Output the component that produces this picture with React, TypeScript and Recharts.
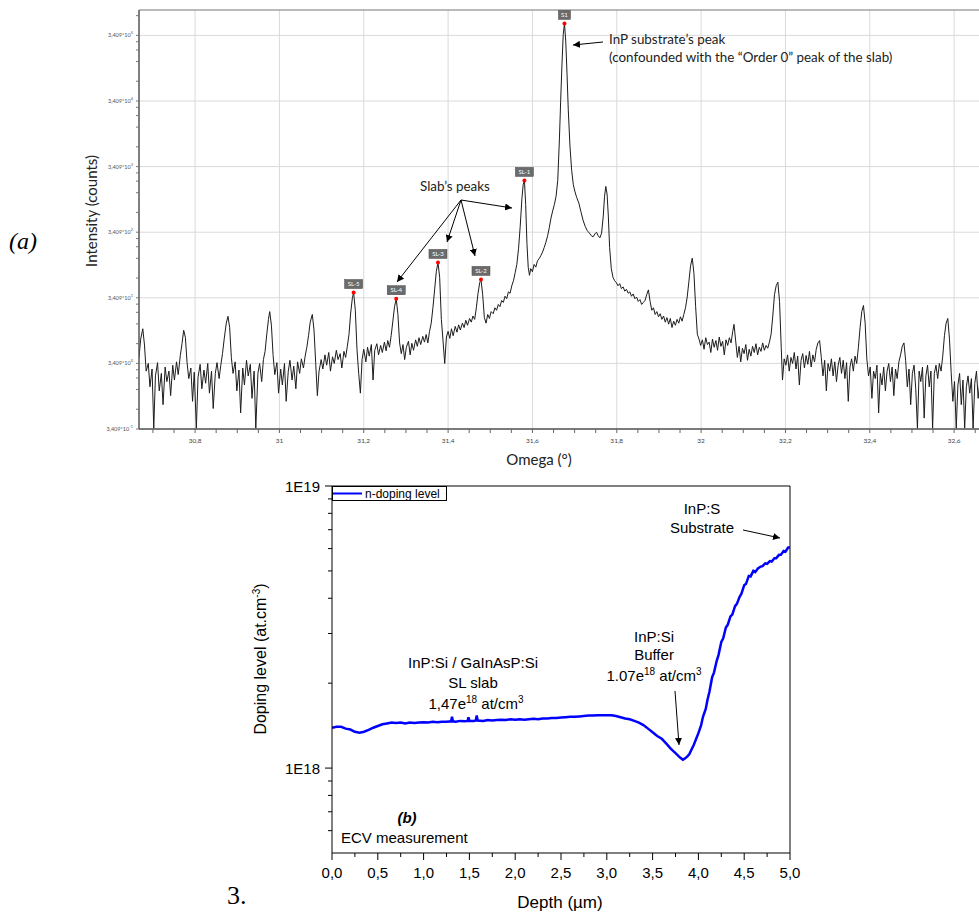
import React from 'react';
import { LineChart, Line, XAxis, YAxis, ReferenceDot, ReferenceLine } from 'recharts';

// ---- (a) XRD omega scan ----
const omegaTicks = [30.8, 31, 31.2, 31.4, 31.6, 31.8, 32, 32.2, 32.4, 32.6];
const intensityTicks = [0.3409, 3.409, 34.09, 340.9, 3409, 34090, 340900];
const intensityExp = ['-1', '0', '1', '2', '3', '4', '5'];

// [omega (deg), intensity (counts)]
const scan: [number, number][] = [
  [30.667, 4.2], [30.671, 8.0], [30.676, 11.5], [30.680, 6.5], [30.684, 2.6], [30.689, 3.4], [30.693, 1.5], [30.698, 2.8],
  [30.702, 0.35], [30.706, 2.2], [30.711, 3.5], [30.715, 1.3], [30.720, 2.4], [30.724, 0.8], [30.729, 3.0], [30.733, 1.8],
  [30.738, 2.6], [30.742, 1.1], [30.747, 3.2], [30.751, 1.9], [30.756, 3.6], [30.760, 2.3], [30.765, 4.5], [30.769, 6.8],
  [30.773, 10.9], [30.777, 8.5], [30.781, 3.5], [30.785, 2.0], [30.790, 2.9], [30.794, 0.9], [30.798, 2.5], [30.803, 0.35],
  [30.807, 2.1], [30.812, 3.3], [30.816, 1.4], [30.821, 2.7], [30.825, 1.7], [30.830, 3.4], [30.834, 1.2], [30.839, 2.6],
  [30.843, 0.7], [30.848, 2.4], [30.852, 3.5], [30.857, 2.0], [30.861, 3.2], [30.865, 4.8], [30.869, 8.0], [30.874, 14.0],
  [30.878, 17.8], [30.882, 12.0], [30.886, 4.2], [30.890, 2.4], [30.895, 3.6], [30.899, 1.3], [30.904, 2.7], [30.908, 0.6],
  [30.913, 2.9], [30.917, 1.6], [30.922, 3.8], [30.926, 2.2], [30.931, 3.3], [30.935, 1.0], [30.940, 2.6], [30.944, 0.35],
  [30.949, 2.4], [30.953, 3.4], [30.958, 1.8], [30.962, 3.9], [30.966, 5.2], [30.970, 9.5], [30.974, 16.0], [30.977, 21.0],
  [30.981, 13.0], [30.985, 4.5], [30.989, 2.3], [30.994, 3.5], [30.998, 1.2], [31.003, 2.8], [31.007, 1.6], [31.012, 3.4],
  [31.016, 0.9], [31.021, 2.6], [31.025, 3.8], [31.030, 1.9], [31.034, 3.1], [31.039, 1.4], [31.043, 3.6], [31.048, 2.4],
  [31.052, 4.0], [31.057, 2.9], [31.061, 4.4], [31.065, 6.0], [31.069, 9.0], [31.073, 14.5], [31.078, 19.0], [31.082, 11.0],
  [31.086, 3.5], [31.090, 1.1], [31.094, 2.6], [31.099, 3.9],
  [31.103, 2.8], [31.108, 4.6], [31.112, 3.2], [31.117, 5.0], [31.121, 2.6], [31.126, 4.3], [31.130, 3.4], [31.135, 5.4],
  [31.139, 3.9], [31.144, 4.8], [31.148, 2.9], [31.153, 5.2], [31.157, 4.2], [31.161, 6.2], [31.165, 9.5], [31.169, 20.0],
  [31.173, 34.0], [31.176, 41.0], [31.180, 22.0], [31.184, 5.5], [31.188, 2.4], [31.192, 1.2], [31.196, 3.9], [31.200, 5.6],
  [31.205, 3.6], [31.209, 6.0], [31.213, 4.4], [31.218, 6.6], [31.222, 1.9], [31.226, 5.4], [31.231, 6.8], [31.235, 4.6],
  [31.240, 6.4], [31.244, 5.0], [31.249, 7.2], [31.253, 5.3], [31.257, 7.6], [31.261, 6.0], [31.265, 9.0], [31.269, 15.0],
  [31.273, 25.0], [31.277, 33.0], [31.281, 19.0], [31.285, 7.0], [31.289, 4.8], [31.293, 6.6], [31.297, 3.9], [31.301, 6.0],
  [31.306, 7.4], [31.310, 4.6], [31.314, 6.9], [31.318, 5.4], [31.323, 7.8], [31.327, 6.2], [31.331, 8.4], [31.335, 6.6],
  [31.340, 8.8], [31.344, 7.2], [31.348, 9.4], [31.352, 7.0], [31.356, 10.5], [31.360, 14.0], [31.364, 24.0], [31.368, 45.0],
  [31.372, 85.0], [31.376, 118.0], [31.380, 70.0], [31.384, 16.0], [31.388, 7.5], [31.392, 3.4], [31.396, 8.6],
  [31.400, 10.5], [31.404, 8.2], [31.408, 11.5], [31.412, 9.0], [31.417, 12.5], [31.421, 10.2], [31.425, 13.2], [31.429, 11.0],
  [31.434, 14.0], [31.438, 12.0], [31.442, 15.5], [31.446, 13.0], [31.451, 16.5], [31.455, 14.5], [31.459, 18.0], [31.463, 16.0],
  [31.467, 24.0], [31.471, 40.0], [31.475, 58.0], [31.478, 65.0], [31.482, 38.0], [31.486, 17.0], [31.490, 14.0], [31.494, 19.0],
  [31.498, 16.5], [31.502, 21.0], [31.507, 19.5], [31.511, 24.0], [31.515, 22.0], [31.519, 27.0], [31.523, 25.0], [31.527, 31.0],
  [31.531, 29.0], [31.535, 36.0], [31.539, 33.0], [31.543, 42.0], [31.547, 40.0], [31.551, 52.0], [31.555, 62.0], [31.559, 82.0],
  [31.563, 110.0], [31.567, 190.0], [31.571, 420.0], [31.575, 1100.0], [31.578, 1800.0], [31.581, 2100.0], [31.584, 900.0],
  [31.587, 230.0], [31.590, 100.0], [31.593, 75.0], [31.596, 95.0], [31.600, 85.0], [31.604, 110.0], [31.608, 100.0],
  [31.612, 125.0], [31.616, 135.0], [31.620, 150.0], [31.624, 170.0], [31.628, 200.0], [31.632, 240.0], [31.636, 300.0],
  [31.640, 400.0], [31.644, 560.0], [31.648, 720.0], [31.652, 900.0], [31.656, 1200.0], [31.660, 2100.0], [31.664, 9000.0],
  [31.667, 35000.0], [31.670, 120000.0], [31.673, 350000.0], [31.676, 519000.0], [31.679, 280000.0], [31.682, 90000.0],
  [31.685, 25000.0], [31.689, 7000.0], [31.693, 3000.0], [31.697, 1800.0], [31.701, 1400.0], [31.705, 1150.0], [31.710, 950.0],
  [31.715, 700.0], [31.720, 520.0], [31.725, 420.0], [31.730, 360.0], [31.735, 330.0], [31.740, 300.0], [31.744, 290.0],
  [31.748, 320.0], [31.752, 340.0], [31.756, 300.0], [31.760, 280.0], [31.764, 330.0], [31.768, 600.0], [31.771, 1200.0],
  [31.774, 1700.0], [31.777, 1300.0], [31.780, 600.0], [31.783, 200.0], [31.787, 95.0], [31.791, 70.0], [31.795, 62.0],
  [31.799, 58.0], [31.803, 52.0], [31.807, 56.0], [31.811, 47.0], [31.815, 50.0], [31.819, 43.0], [31.823, 46.0], [31.827, 40.0],
  [31.831, 42.0], [31.835, 36.0], [31.839, 39.0], [31.843, 33.0], [31.847, 35.0], [31.851, 30.0], [31.855, 32.0], [31.859, 27.0],
  [31.863, 29.0], [31.867, 31.0], [31.871, 38.0], [31.875, 45.0], [31.879, 30.0], [31.883, 22.0], [31.887, 24.0], [31.891, 19.0],
  [31.895, 21.0], [31.899, 17.5], [31.903, 19.5], [31.907, 16.0], [31.911, 18.0], [31.915, 14.5], [31.919, 17.0], [31.923, 13.5],
  [31.927, 16.5], [31.931, 12.0], [31.935, 15.0], [31.939, 13.0], [31.943, 16.0], [31.947, 14.0], [31.951, 17.5], [31.955, 15.0],
  [31.959, 19.0], [31.963, 24.0], [31.967, 35.0], [31.971, 60.0], [31.975, 105.0], [31.979, 137.0], [31.983, 80.0], [31.987, 25.0],
  [31.991, 9.5], [31.995, 8.0], [31.999, 6.4], [32.003, 7.8], [32.007, 5.6], [32.011, 8.4], [32.015, 6.6], [32.019, 7.2],
  [32.023, 5.0], [32.027, 8.0], [32.031, 6.0], [32.035, 7.6], [32.039, 5.4], [32.043, 8.6], [32.047, 6.2], [32.051, 7.4],
  [32.055, 4.6], [32.059, 7.8], [32.063, 6.4], [32.067, 8.4], [32.071, 7.0], [32.075, 10.5], [32.078, 13.4], [32.082, 7.5],
  [32.086, 4.2], [32.090, 6.2], [32.094, 3.6], [32.098, 5.8], [32.102, 4.8], [32.106, 6.6], [32.110, 3.8], [32.114, 5.6],
  [32.118, 4.4], [32.122, 6.2], [32.126, 5.0], [32.130, 6.8], [32.134, 4.6], [32.138, 6.0], [32.142, 5.2], [32.146, 7.0],
  [32.150, 5.4], [32.154, 6.4], [32.158, 5.8], [32.162, 7.2], [32.166, 9.5], [32.170, 18.0], [32.174, 38.0], [32.178, 52.0],
  [32.182, 59.0], [32.186, 30.0], [32.190, 6.0], [32.193, 1.9], [32.197, 4.0], [32.201, 3.2], [32.205, 4.6], [32.209, 2.6],
  [32.213, 4.2], [32.217, 3.4], [32.221, 5.0], [32.225, 2.8], [32.229, 4.4], [32.233, 1.6], [32.237, 3.8], [32.241, 4.8],
  [32.245, 2.9], [32.249, 4.5], [32.253, 3.3], [32.257, 5.2], [32.261, 3.0], [32.265, 4.6], [32.269, 3.6], [32.273, 5.6],
  [32.277, 7.0], [32.281, 7.6], [32.285, 4.2], [32.289, 2.2], [32.293, 3.8], [32.297, 1.3], [32.301, 3.4], [32.305, 2.6],
  [32.309, 4.0], [32.313, 2.2], [32.317, 3.6], [32.321, 1.8], [32.325, 3.2], [32.329, 4.2], [32.333, 2.4], [32.337, 3.8],
  [32.341, 2.0], [32.345, 3.5], [32.349, 0.9], [32.353, 3.0], [32.357, 4.0], [32.361, 2.6], [32.365, 4.4], [32.369, 3.4],
  [32.373, 6.0], [32.377, 12.0], [32.381, 21.0], [32.385, 26.0], [32.389, 14.0], [32.393, 4.0], [32.397, 2.2], [32.401, 3.0],
  [32.405, 1.0], [32.409, 2.6], [32.413, 2.0], [32.417, 3.2], [32.421, 0.6], [32.425, 2.4], [32.429, 1.6], [32.433, 3.0],
  [32.437, 1.3], [32.441, 2.6], [32.445, 3.4], [32.449, 1.8], [32.453, 3.0], [32.457, 1.1], [32.461, 2.8], [32.465, 2.0],
  [32.469, 3.6], [32.473, 4.6], [32.477, 6.2], [32.481, 7.0], [32.485, 3.8], [32.489, 1.5], [32.493, 2.8], [32.497, 0.8],
  [32.501, 2.4], [32.505, 3.2], [32.509, 1.4], [32.513, 0.35], [32.517, 2.6], [32.521, 1.8], [32.525, 3.0], [32.529, 0.5],
  [32.533, 2.2], [32.537, 3.2], [32.541, 1.5], [32.545, 2.6], [32.549, 0.35], [32.553, 2.4], [32.557, 3.2], [32.561, 2.0],
  [32.565, 3.4], [32.569, 2.6], [32.573, 4.4], [32.577, 9.0], [32.581, 14.0], [32.585, 16.5], [32.589, 8.0], [32.593, 2.5],
  [32.597, 0.9], [32.601, 1.8], [32.605, 0.35], [32.609, 1.6], [32.613, 2.4], [32.617, 0.8], [32.621, 1.9], [32.625, 0.35],
  [32.629, 1.5], [32.633, 2.2], [32.637, 1.2], [32.641, 2.0], [32.645, 0.35], [32.649, 1.7], [32.653, 2.6], [32.657, 1.0],
  [32.661, 1.8],
];

const peakNames = ['S1', 'SL-1', 'SL-2', 'SL-3', 'SL-4', 'SL-5'];
const peakOmega = [31.676, 31.581, 31.478, 31.376, 31.277, 31.176];
const peakCounts = [519000, 2100, 65, 118, 33, 41];

// ---- (b) ECV profile ----
const depthTicks = [0, 0.5, 1, 1.5, 2, 2.5, 3, 3.5, 4, 4.5, 5];
const dopingTicks = [1e18, 1e19];
const dopingTickLabels = ['1E18', '1E19'];

// [depth (um), doping (at/cm3)]
const ecvProfile: [number, number][] = [
  [0.00, 1.39e18], [0.05, 1.40e18], [0.10, 1.40e18], [0.15, 1.38e18], [0.20, 1.37e18], [0.25, 1.345e18], [0.30, 1.335e18],
  [0.35, 1.345e18], [0.40, 1.365e18], [0.45, 1.39e18], [0.50, 1.41e18], [0.55, 1.43e18], [0.60, 1.44e18], [0.65, 1.45e18],
  [0.70, 1.445e18], [0.75, 1.45e18], [0.80, 1.44e18], [0.85, 1.45e18], [0.90, 1.445e18], [0.95, 1.45e18], [1.00, 1.455e18],
  [1.05, 1.45e18], [1.10, 1.46e18], [1.15, 1.455e18], [1.20, 1.46e18], [1.25, 1.46e18], [1.30, 1.465e18], [1.31, 1.52e18],
  [1.32, 1.465e18], [1.35, 1.46e18], [1.40, 1.47e18], [1.45, 1.465e18], [1.48, 1.47e18], [1.49, 1.515e18], [1.50, 1.47e18],
  [1.55, 1.47e18], [1.57, 1.475e18], [1.58, 1.535e18], [1.59, 1.475e18], [1.65, 1.47e18], [1.70, 1.48e18], [1.75, 1.475e18],
  [1.80, 1.48e18], [1.85, 1.485e18], [1.90, 1.48e18], [1.95, 1.49e18], [2.00, 1.485e18], [2.05, 1.49e18], [2.10, 1.485e18],
  [2.15, 1.49e18], [2.20, 1.495e18], [2.25, 1.49e18], [2.30, 1.50e18], [2.35, 1.50e18], [2.40, 1.505e18], [2.45, 1.505e18],
  [2.50, 1.51e18], [2.55, 1.515e18], [2.60, 1.52e18], [2.65, 1.52e18], [2.70, 1.525e18], [2.75, 1.53e18], [2.80, 1.535e18],
  [2.85, 1.535e18], [2.90, 1.54e18], [2.95, 1.54e18], [3.00, 1.54e18], [3.05, 1.54e18], [3.10, 1.53e18], [3.15, 1.515e18],
  [3.20, 1.50e18], [3.25, 1.49e18], [3.30, 1.47e18], [3.35, 1.45e18], [3.40, 1.42e18], [3.45, 1.38e18], [3.50, 1.34e18],
  [3.55, 1.30e18], [3.60, 1.27e18], [3.65, 1.22e18], [3.70, 1.17e18], [3.75, 1.13e18], [3.80, 1.09e18], [3.83, 1.07e18],
  [3.85, 1.08e18], [3.88, 1.10e18], [3.90, 1.12e18], [3.95, 1.21e18], [4.00, 1.33e18], [4.03, 1.42e18], [4.05, 1.52e18],
  [4.08, 1.62e18], [4.10, 1.75e18], [4.12, 1.86e18], [4.15, 2.10e18], [4.17, 2.18e18], [4.20, 2.40e18], [4.22, 2.52e18],
  [4.25, 2.80e18], [4.27, 2.88e18], [4.30, 3.15e18], [4.32, 3.22e18], [4.35, 3.45e18], [4.37, 3.50e18], [4.40, 3.75e18],
  [4.42, 3.82e18], [4.45, 4.05e18], [4.47, 4.15e18], [4.50, 4.45e18], [4.52, 4.50e18], [4.55, 4.80e18], [4.57, 4.78e18],
  [4.60, 5.00e18], [4.62, 4.95e18], [4.65, 5.10e18], [4.68, 5.18e18], [4.70, 5.20e18], [4.73, 5.32e18], [4.75, 5.30e18],
  [4.78, 5.42e18], [4.80, 5.40e18], [4.83, 5.55e18], [4.85, 5.55e18], [4.88, 5.70e18], [4.90, 5.70e18], [4.93, 5.88e18],
  [4.95, 5.85e18], [4.98, 6.05e18], [5.00, 6.05e18],
];

const scanData = scan.map(([omega, counts]) => ({ omega, counts }));
const ecvData = ecvProfile.map(([depth, doping]) => ({ depth, doping }));

// major + minor tick positions
const omegaAll: number[] = [];
for (let i = 0; i <= 39; i++) omegaAll.push(+(30.7 + i * 0.05).toFixed(2));
const intensityAll: number[] = [...intensityTicks];
for (let e = -1; e <= 5; e++) for (const k of [2, 4, 6, 8]) intensityAll.push(3.409 * k * Math.pow(10, e));
intensityAll.sort((a, b) => a - b);
const depthAll: number[] = [];
for (let i = 0; i <= 20; i++) depthAll.push(i * 0.25);
const dopingAll = [6e17, 7e17, 8e17, 9e17, 1e18, 2e18, 3e18, 4e18, 5e18, 6e18, 7e18, 8e18, 9e18, 1e19];

const findIn = (arr: number[], v: number) => arr.findIndex((a) => Math.abs(a - v) <= Math.abs(a) * 1e-6 + 1e-9);

const XRD_FONT = 'Lato, "Open Sans", sans-serif';
const ECV_FONT = '"Liberation Sans", Arial, sans-serif';

const OmegaTick = (props: any) => {
  const { x, y, payload } = props;
  const major = findIn(omegaTicks, payload.value) >= 0;
  return (
    <g>
      <line x1={x} y1={y} x2={x} y2={y + 4} stroke="#666" strokeWidth={1} />
      {major && (
        <text x={x} y={y + 14} textAnchor="middle" fontSize={6.5} fill="#444" fontFamily={XRD_FONT}>
          {String(payload.value).replace('.', ',')}
        </text>
      )}
    </g>
  );
};

const IntensityTick = (props: any) => {
  const { x, y, payload } = props;
  const i = findIn(intensityTicks, payload.value);
  return (
    <g>
      <line x1={x} y1={y} x2={x - 3} y2={y} stroke="#777" strokeWidth={1} />
      {i >= 0 && (
        <text x={x - 6} y={y + 2} textAnchor="end" fontSize={5.5} fill="#555" fontFamily={XRD_FONT}>
          3,409*10<tspan dy={-3} fontSize={4}>{intensityExp[i]}</tspan>
        </text>
      )}
    </g>
  );
};

const DepthTick = (props: any) => {
  const { x, y, payload } = props;
  const major = findIn(depthTicks, payload.value) >= 0;
  return (
    <g>
      <line x1={x} y1={y} x2={x} y2={y + (major ? 7 : 4)} stroke="#000" strokeWidth={1} />
      {major && (
        <text x={x} y={y + 25} textAnchor="middle" fontSize={15} fill="#000" fontFamily={ECV_FONT}>
          {payload.value.toFixed(1).replace('.', ',')}
        </text>
      )}
    </g>
  );
};

const DopingTick = (props: any) => {
  const { x, y, payload } = props;
  const i = findIn(dopingTicks, payload.value);
  return (
    <g>
      <line x1={x} y1={y} x2={x - (i >= 0 ? 7 : 4)} y2={y} stroke="#000" strokeWidth={1} />
      {i >= 0 && (
        <text x={x - 12} y={y + 5.5} textAnchor="end" fontSize={15} fill="#000" fontFamily={ECV_FONT}>
          {dopingTickLabels[i]}
        </text>
      )}
    </g>
  );
};

const PeakTag = (props: any) => {
  const { cx, cy, name } = props;
  const w = name.length > 2 ? 18 : 12;
  return (
    <g>
      <rect x={cx - w / 2} y={cy - 13} width={w} height={9} fill="#6b6b6b" stroke="#444" strokeWidth={0.5} />
      <text x={cx} y={cy - 6.3} textAnchor="middle" fontSize={6} fill="#fff" fontFamily={XRD_FONT}>{name}</text>
      <circle cx={cx} cy={cy} r={2} fill="#ff0000" />
    </g>
  );
};

const Overlay = () => (
  <svg width={979} height={913} style={{ position: 'absolute', left: 0, top: 0, pointerEvents: 'none' }}>
    <defs>
      <marker id="arr" viewBox="0 0 10 10" refX="10" refY="5" markerWidth="7" markerHeight="7" orient="auto-start-reverse" markerUnits="userSpaceOnUse">
        <path d="M0,0 L10,5 L0,10 z" fill="#000" />
      </marker>
    </defs>
    {/* (a) */}
    <text x={9} y={249} fontSize={24} fontStyle="italic" fontFamily='"Liberation Serif", "Times New Roman", serif'>(a)</text>
    <text transform="translate(97,211) rotate(-90)" textAnchor="middle" fontSize={15} fill="#222" fontFamily={XRD_FONT}>Intensity (counts)</text>
    <text x={539} y={465} textAnchor="middle" fontSize={15} fill="#222" fontFamily={XRD_FONT}>Omega (°)</text>
    <text x={609} y={44} fontSize={13.4} fill="#222" fontFamily={XRD_FONT}>InP substrate’s peak</text>
    <text x={609} y={62} fontSize={13.4} fill="#222" fontFamily={XRD_FONT}>(confounded with the “Order 0” peak of the slab)</text>
    <line x1={603} y1={42} x2={573} y2={45} stroke="#000" strokeWidth={1} markerEnd="url(#arr)" />
    <text x={420} y={191} fontSize={13.4} fill="#222" fontFamily={XRD_FONT}>Slab’s peaks</text>
    <line x1={461} y1={200} x2={512} y2={208} stroke="#000" strokeWidth={1} markerEnd="url(#arr)" />
    <line x1={461} y1={200} x2={397} y2={282} stroke="#000" strokeWidth={1} markerEnd="url(#arr)" />
    <line x1={461} y1={200} x2={447} y2={242} stroke="#000" strokeWidth={1} markerEnd="url(#arr)" />
    <line x1={461} y1={200} x2={475} y2={256} stroke="#000" strokeWidth={1} markerEnd="url(#arr)" />

    {/* (b) */}
    <rect x={332.5} y={486.5} width={114} height={14} fill="#fff" stroke="#000" strokeWidth={1} />
    <line x1={333} y1={493.5} x2={362} y2={493.5} stroke="#0000ff" strokeWidth={2} />
    <text x={365} y={498} fontSize={12} fontFamily={ECV_FONT}>n-doping level</text>
    <text transform="translate(266,659) rotate(-90)" textAnchor="middle" fontSize={16} fontFamily={ECV_FONT}>
      Doping level (at.cm<tspan dy={-6} fontSize={10}>-3</tspan><tspan dy={6}>)</tspan>
    </text>
    <text x={560} y={908} textAnchor="middle" fontSize={17} fontFamily={ECV_FONT}>Depth (µm)</text>
    <g fontSize={15} fontFamily={ECV_FONT} textAnchor="middle">
      <text x={473} y={668}>InP:Si / GaInAsP:Si</text>
      <text x={473} y={688}>SL slab</text>
      <text x={476} y={709}>1,47e<tspan dy={-6} fontSize={10}>18</tspan><tspan dy={6}> at/cm</tspan><tspan dy={-6} fontSize={10}>3</tspan></text>
      <text x={654} y={642}>InP:Si</text>
      <text x={654} y={660}>Buffer</text>
      <text x={654} y={681}>1.07e<tspan dy={-6} fontSize={10}>18</tspan><tspan dy={6}> at/cm</tspan><tspan dy={-6} fontSize={10}>3</tspan></text>
      <text x={702} y={514}>InP:S</text>
      <text x={702} y={533}>Substrate</text>
      <text x={407} y={823} fontWeight="bold" fontStyle="italic">(b)</text>
    </g>
    <text x={341} y={843} fontSize={15} fontFamily={ECV_FONT}>ECV measurement</text>
    <line x1={675} y1={691} x2={679} y2={745} stroke="#000" strokeWidth={1} markerEnd="url(#arr)" />
    <line x1={743} y1={530} x2={780} y2={538} stroke="#000" strokeWidth={1} markerEnd="url(#arr)" />
    <text x={227} y={904} fontSize={26} fontFamily='"Liberation Serif", "Times New Roman", serif'>3.</text>
  </svg>
);

export default function App() {
  return (
    <div style={{ position: 'absolute', left: 0, top: 0, width: 979, height: 913, background: '#fff', overflow: 'hidden' }}>
      <div style={{ position: 'absolute', left: 0, top: 0 }}>
        <LineChart width={979} height={470} data={scanData} margin={{ top: 10, right: 0, bottom: 11, left: 99 }}>
          {omegaTicks.map((v) => (
            <ReferenceLine key={`gx${v}`} x={v} stroke="#dadada" strokeWidth={1} />
          ))}
          {intensityTicks.map((v) => (
            <ReferenceLine key={`gy${v}`} y={v} stroke="#dadada" strokeWidth={1} />
          ))}
          <ReferenceLine y={831000} stroke="#777" strokeWidth={1.2} ifOverflow="visible" />
          <XAxis dataKey="omega" type="number" domain={[30.667, 32.659]} allowDataOverflow ticks={omegaAll}
            height={30} tickSize={0} tickMargin={0} interval={0} tick={<OmegaTick />}
            axisLine={{ stroke: '#555', strokeWidth: 1.5 }} tickLine={false} />
          <YAxis type="number" scale="log" domain={[0.3409, 831000]} allowDataOverflow ticks={intensityAll}
            width={40} tickSize={0} tickMargin={0} interval={0} tick={<IntensityTick />}
            axisLine={{ stroke: '#555', strokeWidth: 1.5 }} tickLine={false} />
          <Line dataKey="counts" stroke="#1c1c1c" strokeWidth={1} dot={false} isAnimationActive={false} />
          {peakNames.map((name, i) => (
            <ReferenceDot key={name} x={peakOmega[i]} y={peakCounts[i]} r={2}
              shape={(p: any) => <PeakTag cx={p.cx} cy={p.cy} name={name} />} />
          ))}
        </LineChart>
      </div>
      <div style={{ position: 'absolute', left: 0, top: 470 }}>
        <LineChart width={979} height={443} data={ecvData} margin={{ top: 16, right: 189, bottom: 20, left: 282 }}>
          <ReferenceLine y={1e19} stroke="#000" ifOverflow="visible" />
          <ReferenceLine x={5} stroke="#000" ifOverflow="visible" />
          <XAxis dataKey="depth" type="number" domain={[0, 5]} allowDataOverflow ticks={depthAll}
            height={40} tickSize={0} tickMargin={0} interval={0} tick={<DepthTick />}
            axisLine={{ stroke: '#000' }} tickLine={false} />
          <YAxis type="number" scale="log" domain={[5e17, 1e19]} allowDataOverflow ticks={dopingAll}
            width={50} tickSize={0} tickMargin={0} interval={0} tick={<DopingTick />}
            axisLine={{ stroke: '#000' }} tickLine={false} />
          <Line dataKey="doping" stroke="#0000ff" strokeWidth={2.5} dot={false} isAnimationActive={false} />
        </LineChart>
      </div>
      <Overlay />
    </div>
  );
}
